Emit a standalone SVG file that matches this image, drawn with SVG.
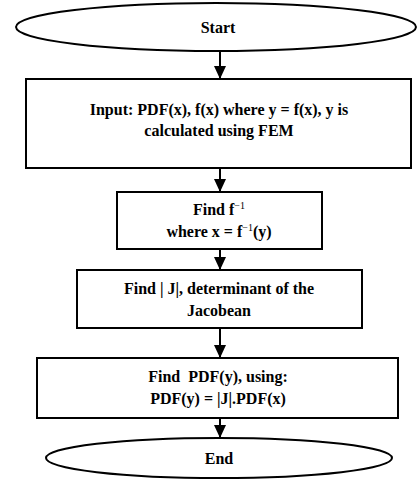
<svg xmlns="http://www.w3.org/2000/svg" width="417" height="480" viewBox="0 0 417 480">
<defs>
<marker id="arr" markerWidth="14" markerHeight="12" refX="13" refY="6" orient="auto" markerUnits="userSpaceOnUse">
<path d="M0,0 L13,6 L0,12 Z" fill="#000"/>
</marker>
<style>
.sh{fill:#fff;stroke:#000;stroke-width:2}
.t{font-family:"Liberation Serif","Times New Roman",serif;font-size:16px;font-weight:bold;text-anchor:middle;fill:#000}
.c{stroke:#000;stroke-width:2;fill:none;marker-end:url(#arr)}
</style>
</defs>
<rect width="417" height="480" fill="#fff"/>
<g id="connectors">
<line class="c" x1="220" y1="51" x2="220" y2="79"/>
<line class="c" x1="220" y1="168" x2="220" y2="192"/>
<line class="c" x1="220" y1="249" x2="220" y2="270"/>
<line class="c" x1="220" y1="328" x2="220" y2="358"/>
<line class="c" x1="220" y1="418" x2="220" y2="438"/>
</g>
<g id="start">
<ellipse class="sh" cx="216" cy="27" rx="200" ry="24"/>
<text class="t" x="218" y="33">Start</text>
</g>
<g id="input">
<rect class="sh" x="26" y="79" width="385" height="89"/>
<text class="t" x="219" y="115">Input: PDF(x), f(x) where y = f(x), y is</text>
<text class="t" x="219" y="136">calculated using FEM</text>
</g>
<g id="findinv">
<rect class="sh" x="117" y="192" width="205" height="57"/>
<text class="t" x="219" y="215">Find f<tspan dy="-6" font-size="10" font-weight="normal">−1</tspan></text>
<text class="t" x="219" y="237">where x = f<tspan dy="-6" font-size="10" font-weight="normal">−1</tspan><tspan dy="6">(y)</tspan></text>
</g>
<g id="findj">
<rect class="sh" x="77" y="270" width="285" height="58"/>
<text class="t" x="219" y="294">Find | J|, determinant of the</text>
<text class="t" x="219" y="316">Jacobean</text>
</g>
<g id="findpdf">
<rect class="sh" x="37" y="358" width="361" height="60"/>
<text class="t" x="218" y="382" xml:space="preserve">Find  PDF(y), using:</text>
<text class="t" x="218" y="404">PDF(y) = |J|.PDF(x)</text>
</g>
<g id="end">
<ellipse class="sh" cx="219" cy="458" rx="173" ry="20"/>
<text class="t" x="219" y="464">End</text>
</g>
</svg>
